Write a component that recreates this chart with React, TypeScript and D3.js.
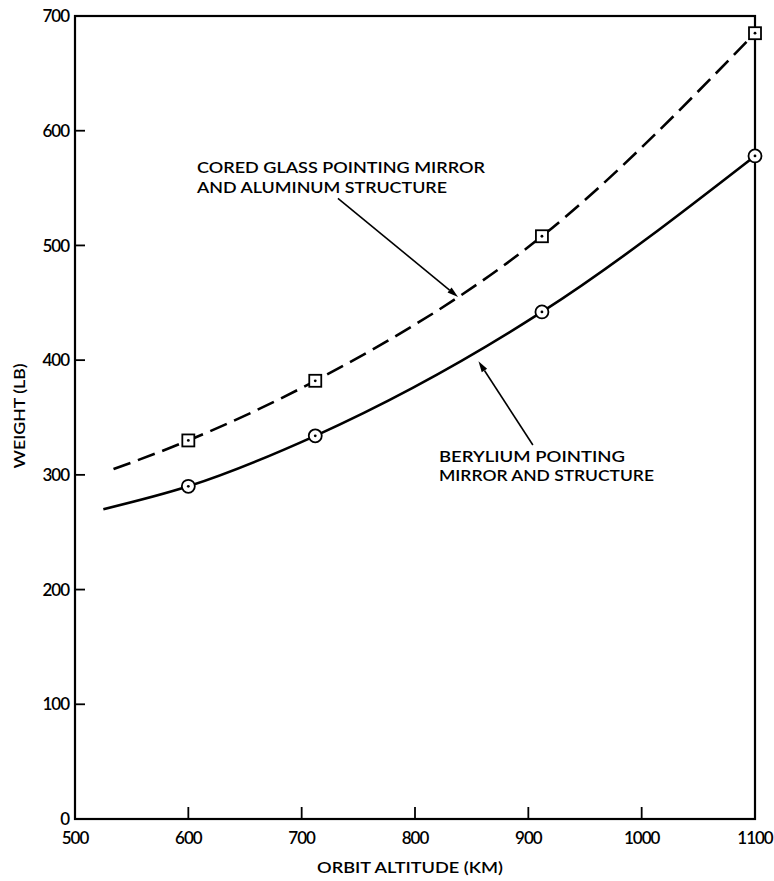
import React from "react";
import * as d3 from "d3";

const xTicks = [500, 600, 700, 800, 900, 1000, 1100];
const yTicks = [0, 100, 200, 300, 400, 500, 600, 700];

// Cored glass pointing mirror and aluminum structure (dashed, squares)
const glassAlt = [534, 600, 712, 912, 1100];
const glassWeight = [305, 330, 382, 508, 685];
const glassMarked = [false, true, true, true, true];

// Beryllium pointing mirror and structure (solid, circles)
const beAlt = [525, 600, 712, 912, 1100];
const beWeight = [270, 290, 334, 442, 578];
const beMarked = [false, true, true, true, true];

const labelGlass = ["CORED GLASS POINTING MIRROR", "AND ALUMINUM STRUCTURE"];
const labelBe = ["BERYLIUM POINTING", "MIRROR AND STRUCTURE"];

const W = 774;
const H = 881;
const FONT = "Lato, 'Open Sans', sans-serif";

export default function App() {
  const x = d3.scaleLinear().domain([500, 1100]).range([75, 755]);
  const y = d3.scaleLinear().domain([0, 700]).range([819, 16]);

  const line = d3
    .line<[number, number]>()
    .x((d) => x(d[0]))
    .y((d) => y(d[1]))
    .curve(d3.curveMonotoneX);

  const glassPts: [number, number][] = glassAlt.map((a, i) => [a, glassWeight[i]]);
  const bePts: [number, number][] = beAlt.map((a, i) => [a, beWeight[i]]);

  // annotation arrows in data units: [fromAlt, fromWeight, toAlt, toWeight]
  const arrowGlass = [732, 541, 838, 455];
  const arrowBe = [904, 326, 856, 399];

  const arrow = (a: number[], key: string) => {
    const x1 = x(a[0]), y1 = y(a[1]), x2 = x(a[2]), y2 = y(a[3]);
    const ang = Math.atan2(y2 - y1, x2 - x1);
    const L = 11, Wd = 3.2;
    const bx = x2 - L * Math.cos(ang), by = y2 - L * Math.sin(ang);
    const p1 = [bx + Wd * Math.sin(ang), by - Wd * Math.cos(ang)];
    const p2 = [bx - Wd * Math.sin(ang), by + Wd * Math.cos(ang)];
    return (
      <g key={key}>
        <line x1={x1} y1={y1} x2={bx} y2={by} stroke="#000" strokeWidth={1.6} />
        <polygon points={`${x2},${y2} ${p1[0]},${p1[1]} ${p2[0]},${p2[1]}`} fill="#000" />
      </g>
    );
  };

  return (
    <svg width={W} height={H} style={{ position: "absolute", left: 0, top: 0, background: "#fff" }}>
      <rect x={0} y={0} width={W} height={H} fill="#fff" />
      {/* frame */}
      <rect
        x={x(500)}
        y={y(700)}
        width={x(1100) - x(500)}
        height={y(0) - y(700)}
        fill="none"
        stroke="#000"
        strokeWidth={2.2}
      />
      {/* y ticks */}
      {yTicks.map((t) => (
        <g key={"y" + t}>
          {t > 0 && t < 700 && (
            <line x1={x(500)} x2={x(500) + 10} y1={y(t)} y2={y(t)} stroke="#000" strokeWidth={1.8} />
          )}
          <text
            x={x(500) - 6}
            y={y(t)}
            dy="0.36em"
            textAnchor="end"
            fontFamily={FONT}
            fontSize={17}
            fontWeight={600}
            letterSpacing={-1}
          >
            {t}
          </text>
        </g>
      ))}
      {/* x ticks */}
      {xTicks.map((t) => (
        <g key={"x" + t}>
          {t > 500 && t < 1100 && (
            <line x1={x(t)} x2={x(t)} y1={y(0)} y2={y(0) - 12} stroke="#000" strokeWidth={1.8} />
          )}
          <text
            x={x(t)}
            y={y(0) + 25}
            textAnchor="middle"
            fontFamily={FONT}
            fontSize={17}
            fontWeight={600}
            letterSpacing={-1}
          >
            {t}
          </text>
        </g>
      ))}
      {/* axis titles */}
      <text
        x={410}
        y={873}
        textAnchor="middle"
        fontFamily={FONT}
        fontSize={16}
        fontWeight={600}
        textLength={186}
        lengthAdjust="spacingAndGlyphs"
      >
        ORBIT ALTITUDE (KM)
      </text>
      <text
        transform="translate(25,416) rotate(-90)"
        textAnchor="middle"
        fontFamily={FONT}
        fontSize={16}
        fontWeight={600}
        textLength={105}
        lengthAdjust="spacingAndGlyphs"
      >
        WEIGHT (LB)
      </text>

      {/* curves */}
      <path d={line(glassPts) || ""} fill="none" stroke="#000" strokeWidth={2.6} strokeDasharray="18 8" />
      <path d={line(bePts) || ""} fill="none" stroke="#000" strokeWidth={2.6} />

      {/* markers */}
      {glassPts.map((p, i) =>
        glassMarked[i] ? (
          <g key={"gs" + i}>
            <rect x={x(p[0]) - 6} y={y(p[1]) - 6} width={12} height={12} fill="#fff" stroke="#000" strokeWidth={1.8} />
            <circle cx={x(p[0])} cy={y(p[1])} r={1.4} fill="#000" />
          </g>
        ) : null
      )}
      {bePts.map((p, i) =>
        beMarked[i] ? (
          <g key={"bc" + i}>
            <circle cx={x(p[0])} cy={y(p[1])} r={6.5} fill="#fff" stroke="#000" strokeWidth={1.8} />
            <circle cx={x(p[0])} cy={y(p[1])} r={1.4} fill="#000" />
          </g>
        ) : null
      )}

      {/* annotations */}
      {arrow(arrowGlass, "ag")}
      {arrow(arrowBe, "ab")}
      <text x={197} y={173} fontFamily={FONT} fontSize={16} fontWeight={600} textLength={288} lengthAdjust="spacingAndGlyphs">
        {labelGlass[0]}
      </text>
      <text x={197} y={193} fontFamily={FONT} fontSize={16} fontWeight={600} textLength={250} lengthAdjust="spacingAndGlyphs">
        {labelGlass[1]}
      </text>
      <text x={439} y={462} fontFamily={FONT} fontSize={16} fontWeight={600} textLength={186} lengthAdjust="spacingAndGlyphs">
        {labelBe[0]}
      </text>
      <text x={439} y={481} fontFamily={FONT} fontSize={16} fontWeight={600} textLength={215} lengthAdjust="spacingAndGlyphs">
        {labelBe[1]}
      </text>
    </svg>
  );
}
